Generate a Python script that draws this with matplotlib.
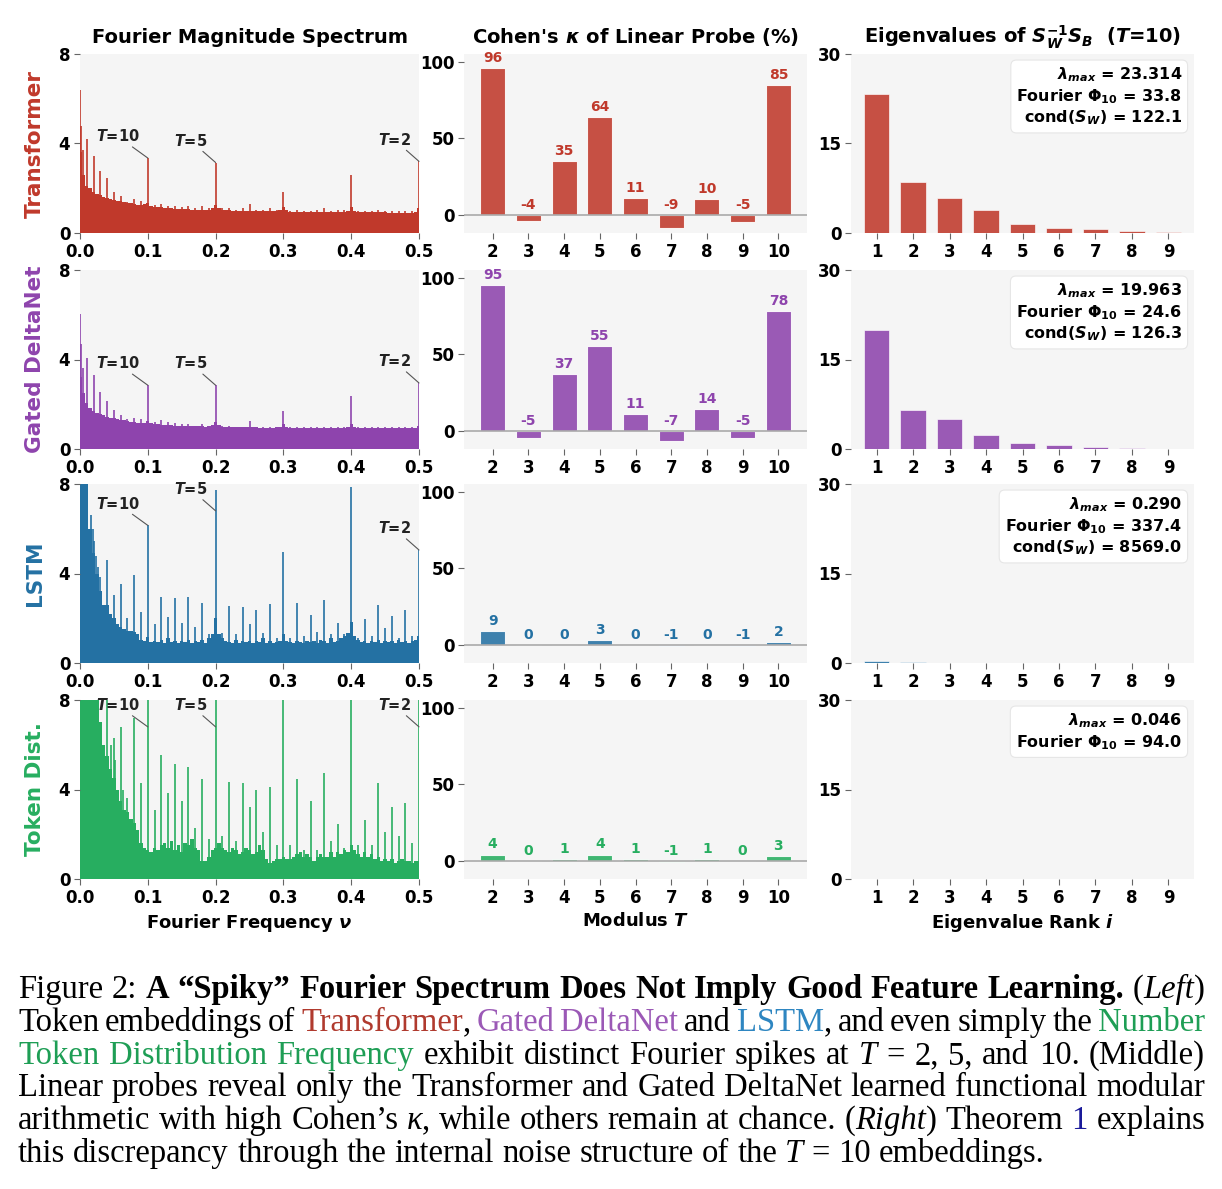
import numpy as np
import matplotlib
matplotlib.use("Agg")
import matplotlib.pyplot as plt

plt.rcParams['font.family'] = ['DejaVu Sans']
plt.rcParams['mathtext.fontset'] = 'dejavusans'

# ---------------- data ----------------
models = ["Transformer", "Gated DeltaNet", "LSTM", "Token Dist."]
colors = ["#c0392b", "#8e44ad", "#2471a3", "#27ae60"]

# spectrum: smooth floor sampled every 0.005 (nu = 0 ... 0.5)
base_transformer = [3.6, 2.6, 2.1, 2.0, 1.85, 1.75, 1.68, 1.62, 1.57, 1.52,
                    1.48, 1.44, 1.41, 1.38, 1.35, 1.32, 1.30, 1.27, 1.25, 1.28,
                    1.35, 1.22, 1.18, 1.15, 1.14, 1.12, 1.11, 1.10, 1.09, 1.08,
                    1.07, 1.06, 1.06, 1.05, 1.05, 1.04, 1.04, 1.03, 1.05, 1.10,
                    1.25, 1.10, 1.03, 1.02, 1.01, 1.00, 1.00, 1.00, 0.99, 0.99,
                    0.99, 0.98, 0.98, 0.98, 0.97, 0.97, 0.97, 0.97, 0.98, 1.02,
                    1.15, 1.02, 0.96, 0.96, 0.95, 0.95, 0.95, 0.95, 0.95, 0.95,
                    0.95, 0.94, 0.94, 0.94, 0.94, 0.94, 0.94, 0.95, 0.96, 1.00,
                    1.15, 1.00, 0.94, 0.93, 0.93, 0.93, 0.92, 0.92, 0.92, 0.92,
                    0.92, 0.91, 0.91, 0.91, 0.91, 0.91, 0.90, 0.90, 0.91, 0.95,
                    1.10]
base_gdn = [3.2, 2.5, 2.05, 1.85, 1.72, 1.62, 1.55, 1.50, 1.45, 1.40,
            1.37, 1.34, 1.31, 1.28, 1.25, 1.22, 1.20, 1.18, 1.16, 1.18,
            1.25, 1.14, 1.12, 1.10, 1.09, 1.08, 1.07, 1.06, 1.05, 1.04,
            1.04, 1.03, 1.03, 1.02, 1.02, 1.01, 1.01, 1.00, 1.02, 1.07,
            1.20, 1.06, 1.00, 0.99, 0.99, 0.98, 0.98, 0.98, 0.97, 0.97,
            0.97, 0.97, 0.97, 0.96, 0.96, 0.96, 0.96, 0.96, 0.97, 1.00,
            1.10, 1.00, 0.96, 0.96, 0.95, 0.95, 0.95, 0.95, 0.95, 0.95,
            0.95, 0.95, 0.95, 0.94, 0.94, 0.94, 0.94, 0.95, 0.96, 0.99,
            1.10, 0.99, 0.95, 0.94, 0.94, 0.94, 0.94, 0.94, 0.94, 0.94,
            0.94, 0.94, 0.93, 0.93, 0.93, 0.93, 0.93, 0.93, 0.94, 0.96,
            1.05]
base_lstm = [9.0, 9.0, 8.5, 6.0, 4.9, 4.0, 3.2, 2.6, 2.6, 2.2,
             2.0, 1.75, 1.6, 1.5, 1.45, 1.45, 1.4, 1.3, 1.05, 1.0,
             1.15, 0.95, 1.0, 0.95, 1.05, 0.9, 1.1, 0.95, 1.0, 0.9,
             1.0, 0.95, 1.05, 0.9, 1.0, 0.95, 1.05, 0.9, 1.1, 1.3,
             2.0, 1.3, 1.1, 1.0, 0.95, 0.9, 1.05, 0.9, 1.0, 0.95,
             1.0, 0.9, 1.0, 0.95, 1.1, 0.9, 1.0, 0.9, 0.95, 1.0,
             1.3, 1.0, 0.95, 0.9, 1.0, 0.95, 0.9, 1.0, 0.95, 1.0,
             0.9, 1.05, 1.0, 0.9, 1.1, 0.95, 1.0, 1.1, 1.2, 1.35,
             1.85, 1.2, 1.05, 0.95, 1.0, 0.9, 1.0, 0.95, 1.05, 0.9,
             1.0, 0.95, 1.0, 0.9, 1.05, 0.95, 1.0, 0.9, 1.0, 1.05,
             1.2]
base_token = [9.0, 9.0, 9.0, 9.0, 8.5, 8.2, 7.0, 6.0, 5.5, 4.9,
              4.5, 4.0, 3.5, 3.1, 3.0, 2.7, 2.5, 2.2, 1.6, 1.4,
              1.3, 1.2, 1.4, 1.3, 1.5, 1.6, 1.4, 1.7, 1.3, 1.5,
              1.2, 1.6, 1.5, 1.8, 1.4, 1.3, 0.8, 0.8, 1.0, 1.3,
              1.4, 1.6, 1.4, 1.3, 1.2, 1.4, 1.3, 1.1, 1.2, 1.4,
              1.3, 1.1, 1.2, 1.5, 1.3, 0.9, 0.7, 0.8, 0.9, 0.9,
              1.0, 0.9, 0.9, 1.0, 1.1, 1.2, 1.0, 1.1, 1.0, 0.8,
              1.0, 1.1, 1.0, 1.0, 1.2, 1.0, 1.2, 1.1, 1.3, 1.2,
              1.5, 1.3, 1.1, 1.0, 1.2, 1.0, 1.1, 0.9, 1.0, 0.8,
              0.9, 0.8, 0.9, 0.7, 0.8, 0.9, 0.8, 0.8, 0.7, 0.8,
              0.8]

# spike heights at nu = 0.01, 0.02, ..., 0.50
spk_transformer = [4.2, 3.45, 2.75, 2.45, 1.85, 1.65, 1.4, 1.5, 1.42, 3.35,
                   1.25, 1.3, 1.2, 1.22, 1.15, 1.2, 1.1, 1.2, 1.1, 3.15,
                   1.1, 1.1, 1.05, 1.1, 1.3, 1.05, 1.05, 1.1, 1.05, 1.85,
                   1.0, 1.05, 1.0, 1.0, 1.05, 1.1, 1.0, 1.05, 1.05, 2.6,
                   1.0, 1.0, 1.0, 1.05, 1.0, 1.0, 1.0, 1.0, 1.0, 3.2]
spk_gdn = [4.05, 3.3, 2.55, 2.15, 1.75, 1.5, 1.35, 1.38, 1.35, 2.85,
           1.2, 1.3, 1.2, 1.15, 1.1, 1.1, 1.05, 1.1, 1.05, 2.85,
           1.05, 1.05, 1.0, 1.0, 1.25, 1.0, 1.0, 1.0, 1.0, 1.7,
           0.98, 1.0, 0.98, 0.98, 0.98, 1.0, 0.98, 0.98, 0.98, 2.35,
           0.97, 0.97, 0.97, 0.97, 0.97, 0.97, 0.97, 0.97, 0.97, 2.95]
spk_lstm = [9.0, 5.45, 3.85, 4.6, 3.05, 3.55, 2.0, 3.95, 2.3, 6.15,
            1.75, 2.95, 2.05, 2.9, 1.8, 2.95, 1.6, 2.7, 1.3, 7.75,
            1.35, 2.55, 1.3, 2.5, 1.75, 2.35, 1.35, 2.65, 1.1, 4.95,
            1.1, 2.7, 1.2, 2.15, 1.4, 2.8, 1.3, 1.8, 1.3, 7.85,
            1.1, 1.95, 1.2, 2.6, 1.55, 2.1, 1.1, 2.35, 1.2, 5.05]
spk_token = [9.0, 9.0, 6.1, 9.0, 6.3, 6.8, 3.6, 7.2, 4.3, 9.0,
             3.1, 5.55, 3.85, 5.15, 3.5, 5.0, 2.3, 4.45, 1.8, 9.0,
             1.9, 4.35, 1.7, 4.3, 3.2, 4.0, 2.1, 4.1, 1.5, 9.0,
             1.5, 4.45, 1.3, 3.5, 1.3, 4.75, 1.7, 2.45, 1.4, 9.0,
             1.5, 2.65, 1.5, 4.3, 2.1, 3.2, 1.9, 3.4, 1.6, 9.0]

# extra low-frequency peaks
head_nu = [[0.0, 0.002, 0.004], [0.0, 0.002, 0.004],
           [0.016, 0.019, 0.023, 0.027], [0.045, 0.052, 0.064]]
head_h = [[6.4, 4.8, 3.7], [6.05, 4.7, 3.6],
          [6.6, 6.0, 4.8, 4.3], [6.0, 5.3, 4.0]]

moduli = [2, 3, 4, 5, 6, 7, 8, 9, 10]
kappa = [[96, -4, 35, 64, 11, -9, 10, -5, 85],
         [95, -5, 37, 55, 11, -7, 14, -5, 78],
         [9, 0, 0, 3, 0, -1, 0, -1, 2],
         [4, 0, 1, 4, 1, -1, 1, 0, 3]]

ranks = [1, 2, 3, 4, 5, 6, 7, 8, 9]
eigs = [[23.3, 8.55, 5.8, 3.9, 1.5, 0.8, 0.67, 0.33, 0.2],
        [19.96, 6.5, 4.97, 2.35, 1.06, 0.6, 0.4, 0.17, 0.06],
        [0.29, 0.1, 0.07, 0.05, 0.04, 0.03, 0.02, 0.02, 0.01],
        [0.046, 0.03, 0.02, 0.015, 0.01, 0.01, 0.008, 0.005, 0.003]]
eig_box = [[r"$\mathbfit{\lambda}_{\mathbfit{max}}$ = 23.314", r"Fourier $\mathbf{\Phi}_{\mathbf{10}}$ = 33.8", r"cond($\mathbfit{S}_{\mathbfit{W}}$) = 122.1"],
           [r"$\mathbfit{\lambda}_{\mathbfit{max}}$ = 19.963", r"Fourier $\mathbf{\Phi}_{\mathbf{10}}$ = 24.6", r"cond($\mathbfit{S}_{\mathbfit{W}}$) = 126.3"],
           [r"$\mathbfit{\lambda}_{\mathbfit{max}}$ = 0.290", r"Fourier $\mathbf{\Phi}_{\mathbf{10}}$ = 337.4", r"cond($\mathbfit{S}_{\mathbfit{W}}$) = 8569.0"],
           [r"$\mathbfit{\lambda}_{\mathbfit{max}}$ = 0.046", r"Fourier $\mathbf{\Phi}_{\mathbf{10}}$ = 94.0"]]

bases = [base_transformer, base_gdn, base_lstm, base_token]
spikes = [spk_transformer, spk_gdn, spk_lstm, spk_token]
nu_grid = np.arange(101) * 0.005
spk_nu = np.arange(1, 51) * 0.01
marks = [(10, "10"), (20, "5"), (50, "2")]

# ---------------- figure ----------------
W, H = 1222, 1189
fig = plt.figure(figsize=(W / 100, H / 100), dpi=100)
bg = "#f5f5f5"

col_left = [80, 464, 851]
col_w = [339, 343, 343]
row_top = [54, 270, 484, 700]
row_h = 179


def style(ax):
    ax.set_facecolor(bg)
    for s in ax.spines.values():
        s.set_visible(False)
    ax.tick_params(length=4, width=0.8, color="#666", labelsize=12, pad=3)
    for lab in ax.get_xticklabels() + ax.get_yticklabels():
        lab.set_fontweight("bold")


for r in range(4):
    c = colors[r]
    axes = []
    for k in range(3):
        ax = fig.add_axes([col_left[k] / W, 1 - (row_top[r] + row_h) / H, col_w[k] / W, row_h / H])
        axes.append(ax)
    a1, a2, a3 = axes

    # Fourier spectrum
    a1.bar(nu_grid, bases[r], width=0.005, color=c, linewidth=0)
    a1.vlines(spk_nu, 0, spikes[r], color=c, lw=1.4, alpha=0.85)
    a1.vlines(head_nu[r], 0, head_h[r], color=c, lw=1.4, alpha=0.85)
    a1.set_xlim(0, 0.5)
    a1.set_ylim(0, 8)
    a1.set_xticks([0, 0.1, 0.2, 0.3, 0.4, 0.5])
    a1.set_yticks([0, 4, 8])
    for idx, lab in marks:
        h = min(spikes[r][idx - 1], 6.8)
        a1.annotate(r"$\mathbfit{T}$=" + lab, xy=(spk_nu[idx - 1], h), xytext=(-6, 10),
                    textcoords="offset points", ha="right", va="bottom",
                    fontsize=10.5, fontweight="bold", color="#222",
                    arrowprops=dict(arrowstyle="-", color="#555", lw=0.8, shrinkA=0, shrinkB=0))
    style(a1)

    # Cohen's kappa
    a2.bar(moduli, kappa[r], width=0.7, color=c, alpha=0.88, edgecolor="white", linewidth=0.8)
    a2.axhline(0, color="#aaa", lw=1.2)
    for m, v in zip(moduli, kappa[r]):
        a2.text(m, max(v, 0) + 2, f"{v:d}", ha="center", va="bottom", fontsize=10,
                fontweight="bold", color=c)
    a2.set_xlim(1.2, 10.8)
    a2.set_ylim(-12, 105)
    a2.set_xticks(moduli)
    a2.set_yticks([0, 50, 100])
    style(a2)

    # eigenvalues
    a3.bar(ranks, eigs[r], width=0.7, color=c, alpha=0.88, edgecolor="white", linewidth=0.5)
    a3.set_xlim(0.3, 9.7)
    a3.set_ylim(0, 30)
    a3.set_xticks(ranks)
    a3.set_yticks([0, 15, 30])
    a3.text(0.965, 0.935, "\n".join(eig_box[r]), transform=a3.transAxes, ha="right", va="top",
            fontsize=11.5, fontweight="bold", linespacing=1.2,
            bbox=dict(boxstyle="round,pad=0.35", facecolor="white", edgecolor="#e6e6e6", lw=0.8))
    style(a3)

    fig.text(35 / W, 1 - (row_top[r] + row_h / 2) / H, models[r], rotation=90, ha="center",
             va="center", fontsize=15.5, fontweight="bold", color=c)

    if r == 0:
        a1.set_title("Fourier Magnitude Spectrum", fontsize=14, fontweight="bold", pad=8)
        a2.set_title(r"Cohen's $\mathbfit{\kappa}$ of Linear Probe (%)", fontsize=14, fontweight="bold", pad=8)
        a3.set_title(r"Eigenvalues of $\mathbfit{S}_{\mathbfit{W}}^{\mathbf{-1}}\mathbfit{S}_{\mathbfit{B}}$  ($\mathbfit{T}$=10)",
                     fontsize=14, fontweight="bold", pad=8)
    if r == 3:
        a1.set_xlabel(r"Fourier Frequency $\mathbfit{\nu}$", fontsize=13, fontweight="bold", labelpad=4)
        a2.set_xlabel(r"Modulus $\mathbfit{T}$", fontsize=13, fontweight="bold", labelpad=4)
        a3.set_xlabel(r"Eigenvalue Rank $\mathbfit{i}$", fontsize=13, fontweight="bold", labelpad=4)

# ---------------- caption ----------------
red, purple, blue, green, navy = "#b03a2e", "#9b59b6", "#2e86c1", "#1e9e55", "#1a1a9a"
it = {"style": "italic"}
caption = [
    [("Figure 2: ", {}), ("A “Spiky” Fourier Spectrum Does Not Imply Good Feature Learning.", {"weight": "bold"}),
     (" (", {}), ("Left", it), (")", {})],
    [("Token embeddings of ", {}), ("Transformer", {"color": red}), (", ", {}), ("Gated DeltaNet", {"color": purple}),
     (" and ", {}), ("LSTM", {"color": blue}), (", and even simply the ", {}), ("Number", {"color": green})],
    [("Token Distribution Frequency", {"color": green}), (" exhibit distinct Fourier spikes at ", {}), ("T", it),
     (" = 2, 5, and 10. (Middle)", {})],
    [("Linear probes reveal only the Transformer and Gated DeltaNet learned functional modular", {})],
    [("arithmetic with high Cohen’s ", {}), ("κ", it), (", while others remain at chance. (", {}), ("Right", it),
     (") Theorem ", {}), ("1", {"color": navy}), (" explains", {})],
    [("this discrepancy through the internal noise structure of the ", {}), ("T", it), (" = 10 embeddings.", {})],
]
base_y = [998, 1031, 1064, 1096, 1129, 1162]
x0, x1 = 18, 1205
cap_fs = 23.5
renderer = fig.canvas.get_renderer()


def words_of(segs):
    words = [[]]
    for txt, kw in segs:
        parts = txt.split(" ")
        for i, p in enumerate(parts):
            if i > 0:
                words.append([])
            if p:
                words[-1].append((p, kw))
    return [w for w in words if w]


def piece(x, y, txt, kw):
    t = fig.text(x / W, 1 - y / H, txt, fontsize=cap_fs, family="Liberation Serif",
                 va="baseline", ha="left", color=kw.get("color", "black"),
                 fontweight=kw.get("weight", "normal"), fontstyle=kw.get("style", "normal"))
    return t


probe = piece(0, 0, "a b", {})
wab = probe.get_window_extent(renderer).width
probe.remove()
probe = piece(0, 0, "ab", {})
space_w = wab - probe.get_window_extent(renderer).width
probe.remove()

for li, segs in enumerate(caption):
    words = words_of(segs)
    widths = []
    for w in words:
        tot = 0
        for txt, kw in w:
            t = piece(0, 0, txt, kw)
            tot += t.get_window_extent(renderer).width
            t.remove()
        widths.append(tot)
    if li < len(caption) - 1:
        gap = (x1 - x0 - sum(widths)) / (len(words) - 1)
    else:
        gap = space_w
    x = x0
    for w, wd in zip(words, widths):
        xx = x
        for txt, kw in w:
            t = piece(xx, base_y[li], txt, kw)
            xx += t.get_window_extent(renderer).width
        x += wd + gap

fig.savefig("out.png", dpi=100, facecolor="white")
